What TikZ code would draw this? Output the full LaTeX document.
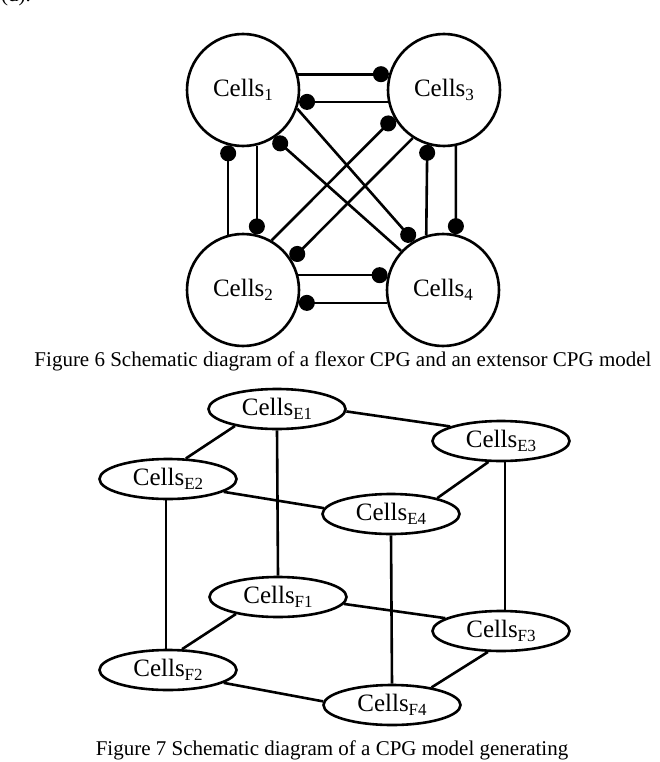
\documentclass[tikz,border=0pt]{standalone}
\usepackage{fontspec}
\setmainfont{Liberation Serif}
\usetikzlibrary{arrows.meta,shapes.geometric}
\newcommand\sbx[1]{\raisebox{-4.5pt}{\fontsize{17}{17}\selectfont #1}}
\begin{document}
\begin{tikzpicture}[x=1pt,y=-1pt,
  cell/.style={circle,draw,line width=2.6pt,minimum size=112pt,inner sep=0pt,font=\fontsize{25}{30}\selectfont},
  ell/.style={ellipse,draw,line width=2.6pt,minimum width=137pt,minimum height=40pt,inner sep=0pt,font=\fontsize{25}{30}\selectfont},
  link/.style={line width=2.6pt},
  dotend/.style={-{Circle[length=16pt,width=16pt]}},
  dotstart/.style={{Circle[length=16pt,width=16pt]}-},
  captext/.style={font=\fontsize{21}{25}\selectfont,inner sep=0pt}]
\useasboundingbox (0,0) rectangle (660,762);
\node[captext,anchor=base west] (d) at (1,2) {(d).};
% Figure 6
\node[cell] (c1) at (243,90) {Cells\sbx{1}};
\node[cell] (c3) at (444,90) {Cells\sbx{3}};
\node[cell] (c2) at (243,290) {Cells\sbx{2}};
\node[cell] (c4) at (443,290) {Cells\sbx{4}};
\draw[link,dotend] (c1.16) -- (c3.164);
\draw[link,dotstart] (c1.-12) -- (c3.192);
\draw[link,dotstart] (c1.-105) -- (c2.105);
\draw[link,dotend] (c1.-76) -- (c2.76);
\draw[link,dotstart] (c3.-107) -- (c4.107);
\draw[link,dotend] (c3.-78) -- (c4.77);
\draw[link,dotend] (c2.15) -- (c4.165);
\draw[link,dotstart] (c2.-13) -- (c4.193);
\draw[link,dotstart] (c3.209) -- (c2.60);
\draw[link,dotend] (c3.237) -- (c2.32);
\draw[link,dotstart] (c1.-57) -- (c4.137);
\draw[link,dotend] (c1.-19) -- (c4.121);
\node[captext] (cap6) at (343,361) {Figure 6 Schematic diagram of a flexor CPG and an extensor CPG model};
% Figure 7
\node[ell] (E1) at (277,409) {Cells\sbx{E1}};
\node[ell] (E3) at (501,441) {Cells\sbx{E3}};
\node[ell] (E2) at (168,479) {Cells\sbx{E2}};
\node[ell] (E4) at (391,514) {Cells\sbx{E4}};
\node[ell] (F1) at (278,597) {Cells\sbx{F1}};
\node[ell] (F3) at (501,631) {Cells\sbx{F3}};
\node[ell] (F2) at (168,670) {Cells\sbx{F2}};
\node[ell] (F4) at (392,705) {Cells\sbx{F4}};
\draw[link] (E1.-2) -- (E3.164);
\draw[link] (E1.202) -- (E2.49);
\draw[link] (E2.-13) -- (E4.175);
\draw[link] (E3.239) -- (E4.19);
\draw[link] (F1.-6) -- (F3.167);
\draw[link] (F1.202) -- (F2.56);
\draw[link] (F2.-13) -- (F4.177);
\draw[link] (F3.238) -- (F4.24);
\draw[link] (E1.south) -- (F1.north);
\draw[link] ([xshift=-2pt]E2.south) -- ([xshift=-2pt]F2.north);
\draw[link] ([xshift=4pt]E3.south) -- ([xshift=4pt]F3.north);
\draw[link] (E4.south) -- (F4.north);
\node[captext] (cap7) at (332,750) {Figure 7 Schematic diagram of a CPG model generating};
\end{tikzpicture}
\end{document}
